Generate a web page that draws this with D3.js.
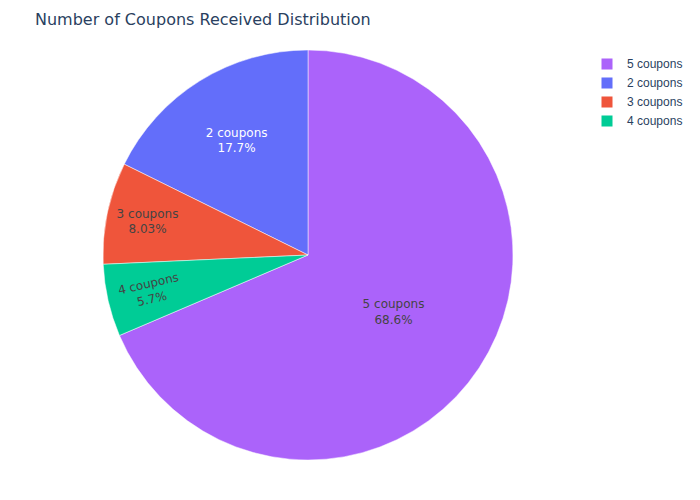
<!DOCTYPE html>
<html>
<head>
<meta charset="utf-8">
<script src="https://cdn.jsdelivr.net/npm/d3@7"></script>
<style>
  body { margin: 0; background: #fff; }
  svg { display: block; }
</style>
</head>
<body>
<div id="chart"></div>
<script>
// coupon distribution (share of respondents, %)
var labels = ["5 coupons", "2 coupons", "3 coupons", "4 coupons"];
var values = [68.6, 17.7, 8.03, 5.7];
var colors = ["#ab63fa", "#636efa", "#EF553B", "#00cc96"];
var textColors = ["#444", "#fff", "#444", "#444"];

var width = 700, height = 500;
var cx = 308, cy = 255, radius = 205;

// where the inside labels sit (fraction of radius) and whether they turn radial
var labelLayout = {
	"5 coupons": { r: 0.5, radial: false },
	"2 coupons": { r: 0.66, radial: false },
	"3 coupons": { r: 0.8, radial: false },
	"4 coupons": { r: 0.79, radial: true }
};

var data = labels.map(function(l, i) {
	return { label: l, value: values[i], color: colors[i], text: textColors[i] };
});
var total = d3.sum(values);

var svg = d3.select("#chart").append("svg")
	.attr("width", width)
	.attr("height", height);

svg.append("rect").attr("width", width).attr("height", height).attr("fill", "#fff");

// first slice ends at 12 o'clock, the rest follow counter-clockwise
var first = values[0] / total * 2 * Math.PI;
var pie = d3.pie()
	.sort(null)
	.value(function(d) { return d.value; })
	.startAngle(first)
	.endAngle(first - 2 * Math.PI);

var arc = d3.arc().innerRadius(0).outerRadius(radius);

var g = svg.append("g").attr("transform", "translate(" + cx + "," + cy + ")");
var arcs = pie(data);

g.selectAll("path")
	.data(arcs)
	.enter().append("path")
	.attr("d", arc)
	.attr("fill", function(d) { return d.data.color; })
	.attr("stroke", "#fff")
	.attr("stroke-width", 0.5);

var fmt = function(v) {
	var s = d3.format(".3r")(v);
	if (s.indexOf(".") >= 0) s = s.replace(/0+$/, "").replace(/\.$/, "");
	return s + "%";
};

var labelsG = g.selectAll("text.slice")
	.data(arcs)
	.enter().append("text")
	.attr("class", "slice")
	.attr("text-anchor", "middle")
	.style("font-family", "'DejaVu Sans', sans-serif")
	.style("font-size", "12px")
	.attr("fill", function(d) { return d.data.text; })
	.attr("transform", function(d) {
		var lay = labelLayout[d.data.label];
		var mid = (d.startAngle + d.endAngle) / 2;
		var rr = radius * lay.r;
		var x = Math.sin(mid) * rr, y = -Math.cos(mid) * rr;
		var rot = 0;
		if (lay.radial) {
			var deg = mid * 180 / Math.PI;
			if (deg < 0) deg += 360;
			rot = deg - 270;
		}
		return "translate(" + x + "," + y + ") rotate(" + rot + ")";
	});

labelsG.append("tspan")
	.attr("x", 0).attr("y", -3.5)
	.text(function(d) { return d.data.label; });
labelsG.append("tspan")
	.attr("x", 0).attr("y", 12.1)
	.text(function(d) { return fmt(d.data.value / total * 100); });

// title
svg.append("text")
	.attr("x", 35)
	.attr("y", 25)
	.style("font-family", "'DejaVu Sans', sans-serif")
	.style("font-size", "16px")
	.attr("fill", "#2a3f5f")
	.text("Number of Coupons Received Distribution");

// legend
var legend = svg.append("g").attr("transform", "translate(600,64)");
var item = legend.selectAll("g")
	.data(data)
	.enter().append("g")
	.attr("transform", function(d, i) { return "translate(0," + (i * 19) + ")"; });
item.append("rect")
	.attr("x", 1.5).attr("y", -5.5)
	.attr("width", 11).attr("height", 11)
	.attr("fill", function(d) { return d.color; });
item.append("text")
	.attr("x", 27).attr("y", 4.3)
	.style("font-family", "'Liberation Sans', Arial, sans-serif")
	.style("font-size", "12px")
	.attr("fill", "#2a3f5f")
	.text(function(d) { return d.label; });
</script>
</body>
</html>
